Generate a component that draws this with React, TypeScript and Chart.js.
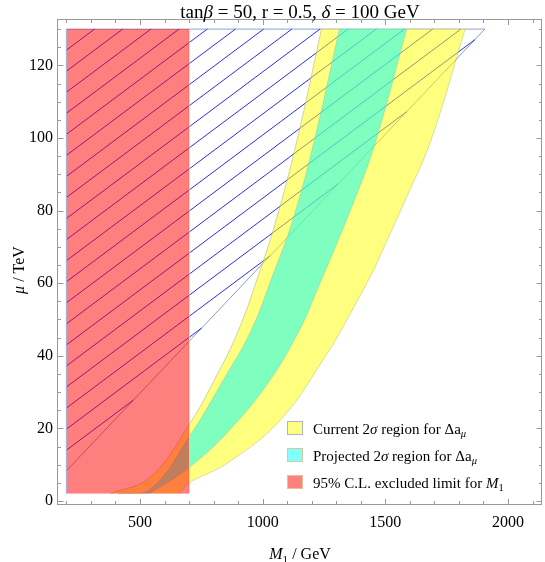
import React, { useEffect, useRef } from "react";
import { Chart, registerables } from "chart.js";

Chart.register(...registerables);

// ---------- axes ----------
const xMin = 165.8;
const xMax = 2138.6;
const yMin = -0.83;
const yMax = 132.5;
const xTicks = [500, 1000, 1500, 2000];
const yTicks = [0, 20, 40, 60, 80, 100, 120];
const xMinorTicks = [200, 300, 400, 500, 600, 700, 800, 900, 1000, 1100, 1200, 1300, 1400, 1500, 1600, 1700, 1800, 1900, 2000, 2100];
const yMinorTicks = [0, 5, 10, 15, 20, 25, 30, 35, 40, 45, 50, 55, 60, 65, 70, 75, 80, 85, 90, 95, 100, 105, 110, 115, 120, 125, 130];

// ---------- current 2σ region (yellow): boundaries, μ [TeV] -> M1 [GeV] ----------
const currentLeftMu = [2, 6.5, 21, 33.3, 47.1, 62.3, 77.4, 99.4, 130];
const currentLeftM1 = [380, 541, 700, 803, 902, 983, 1055, 1140, 1240];
const currentRightMu = [2, 5, 10.4, 22.5, 41.6, 47.1, 62.3, 69.1, 82.9, 99.4, 130];
const currentRightM1 = [660, 700, 855, 1075, 1272, 1320, 1442, 1489, 1581, 1686, 1825];

// ---------- projected 2σ region (cyan) ----------
const projLeftMu = [2, 3.2, 17.6, 33.3, 47.1, 62.3, 77.4, 99.4, 130];
const projLeftM1 = [411, 541, 700, 840, 954, 1042, 1123, 1211, 1313];
const projRightMu = [2, 9.2, 19.6, 33.3, 47.1, 55.4, 82.9, 99.4, 130];
const projRightM1 = [538, 700, 866, 1030, 1150, 1205, 1374, 1462, 1587];

// ---------- 95% C.L. excluded limit for M1 (red) ----------
const exclM1 = [200, 700];
const exclMu = [2, 130];

// ---------- hatched region ----------
const hatchLeftM1 = 200;
const hatchTopMu = 130;
const hatchDiagonalM1 = [200, 1906];
const hatchDiagonalMu = [8.3, 130];
const hatchSlope = 0.0505; // TeV per GeV
const hatchIntercepts = [14.0, 19.8, 25.6, 31.4, 37.2, 43.0, 48.8, 54.6, 60.4, 66.2, 72.0, 77.8, 83.6, 89.4, 95.2, 101.0, 106.8, 112.6, 118.4, 124.2];

const SERIF = '"Liberation Serif", "Times New Roman", serif';

type Part = { t: string; i?: boolean; sub?: boolean };

function richWidth(ctx: CanvasRenderingContext2D, parts: Part[], size: number) {
  let w = 0;
  for (const p of parts) {
    ctx.font = `${p.i ? "italic " : ""}${p.sub ? size * 0.7 : size}px ${SERIF}`;
    w += ctx.measureText(p.t).width;
  }
  return w;
}

function drawRich(ctx: CanvasRenderingContext2D, parts: Part[], x: number, y: number, size: number, align: "left" | "center") {
  const total = richWidth(ctx, parts, size);
  let cx = align === "center" ? x - total / 2 : x;
  ctx.textAlign = "left";
  ctx.textBaseline = "alphabetic";
  for (const p of parts) {
    ctx.font = `${p.i ? "italic " : ""}${p.sub ? size * 0.7 : size}px ${SERIF}`;
    ctx.fillText(p.t, cx, p.sub ? y + size * 0.22 : y);
    cx += ctx.measureText(p.t).width;
  }
}

const pts = (xs: number[], ys: number[]) => xs.map((v, i) => ({ x: v, y: ys[i] }));

function hatchSegments() {
  const d = (hatchDiagonalMu[1] - hatchDiagonalMu[0]) / (hatchDiagonalM1[1] - hatchDiagonalM1[0]);
  return hatchIntercepts.map((b) => {
    const toTop = (hatchTopMu - b) / hatchSlope;
    const toDiag = b > hatchDiagonalMu[0] ? (b - hatchDiagonalMu[0]) / (d - hatchSlope) : 0;
    const len = d > hatchSlope ? Math.min(toTop, toDiag) : toTop;
    return [
      { x: hatchLeftM1, y: b },
      { x: hatchLeftM1 + len, y: b + hatchSlope * len },
    ];
  });
}

const framePlugin = {
  id: "framePlugin",
  afterDatasetsDraw(chart: any) {
    const { ctx, chartArea } = chart;
    const { left, right, top, bottom } = chartArea;
    const xs = chart.scales.x;
    const ys = chart.scales.y;
    ctx.save();
    ctx.strokeStyle = "#999999";
    ctx.lineWidth = 1;
    ctx.strokeRect(Math.round(left) - 0.5, Math.round(top) - 0.5, Math.round(right - left), Math.round(bottom - top) + 1);
    ctx.beginPath();
    for (const v of xMinorTicks) {
      const px = Math.round(xs.getPixelForValue(v)) + 0.5;
      const len = xTicks.includes(v) ? 5 : 3;
      ctx.moveTo(px, bottom);
      ctx.lineTo(px, bottom - len);
      ctx.moveTo(px, top);
      ctx.lineTo(px, top + len);
    }
    for (const v of yMinorTicks) {
      const py = Math.round(ys.getPixelForValue(v)) + 0.5;
      const len = yTicks.includes(v) ? 5.5 : 3;
      ctx.moveTo(left, py);
      ctx.lineTo(left + len, py);
      ctx.moveTo(right, py);
      ctx.lineTo(right - len, py);
    }
    ctx.stroke();
    ctx.restore();
  },
  afterDraw(chart: any) {
    const { ctx } = chart;
    ctx.save();
    ctx.fillStyle = "#000";
    // title
    drawRich(ctx, [{ t: "tan" }, { t: "β", i: true }, { t: " = 50, r = 0.5, " }, { t: "δ", i: true }, { t: " = 100 GeV" }], 300, 17.5, 19, "center");
    // x axis title
    drawRich(ctx, [{ t: "M", i: true }, { t: "1", sub: true }, { t: " / GeV" }], 300, 559, 16, "center");
    // y axis title
    ctx.save();
    ctx.translate(24, 270);
    ctx.rotate(-Math.PI / 2);
    drawRich(ctx, [{ t: "μ", i: true }, { t: " / TeV" }], 0, 0, 16, "center");
    ctx.restore();
    // legend
    const rows: { fill: string; stroke: string; parts: Part[] }[] = [
      { fill: "rgb(255,255,128)", stroke: "rgb(170,180,205)", parts: [{ t: "Current 2" }, { t: "σ", i: true }, { t: " region for Δa" }, { t: "μ", i: true, sub: true }] },
      { fill: "rgb(128,255,255)", stroke: "rgb(215,200,150)", parts: [{ t: "Projected 2" }, { t: "σ", i: true }, { t: " region for Δa" }, { t: "μ", i: true, sub: true }] },
      { fill: "rgb(255,128,128)", stroke: "rgb(225,195,150)", parts: [{ t: "95% C.L. excluded limit for " }, { t: "M", i: true }, { t: "1", sub: true }] },
    ];
    rows.forEach((r, k) => {
      const yTop = 421 + k * 27;
      ctx.fillStyle = r.fill;
      ctx.fillRect(287, yTop, 16, 14);
      ctx.strokeStyle = r.stroke;
      ctx.lineWidth = 1;
      ctx.strokeRect(287.5, yTop + 0.5, 15, 13);
      ctx.fillStyle = "#000";
      drawRich(ctx, r.parts, 313, yTop + 12.5, 15, "left");
    });
    ctx.restore();
  },
};

export default function App() {
  const ref = useRef<HTMLCanvasElement | null>(null);
  useEffect(() => {
    if (!ref.current) return;
    const yellow = "rgba(255,255,0,0.5)";
    const cyan = "rgba(0,255,255,0.5)";
    const red = "rgba(255,0,0,0.5)";
    const band = {
      pointRadius: 0,
      tension: 0.4,
      borderWidth: 0.8,
    };
    const hatch = hatchSegments().map((seg) => ({
      data: seg,
      borderColor: "rgb(45,45,235)",
      borderWidth: 1,
      pointRadius: 0,
      fill: false,
    }));
    const chart = new Chart(ref.current, {
      type: "line",
      data: {
        datasets: [
          { data: pts([exclM1[0], exclM1[0]], exclMu), fill: "+1", backgroundColor: red, borderColor: "rgba(160,175,215,1)", borderWidth: 1, pointRadius: 0 },
          { data: pts([exclM1[1], exclM1[1]], exclMu), fill: false, borderColor: "rgba(250,200,160,1)", borderWidth: 1, pointRadius: 0 },
          { ...band, data: pts(projLeftM1, projLeftMu), fill: "+1", backgroundColor: cyan, borderColor: "rgba(150,190,160,0.6)" },
          { ...band, data: pts(projRightM1, projRightMu), fill: false, borderColor: "rgba(150,190,160,0.6)" },
          { ...band, data: pts(currentLeftM1, currentLeftMu), fill: "+1", backgroundColor: yellow, borderColor: "rgba(175,175,140,0.7)" },
          { ...band, data: pts(currentRightM1, currentRightMu), fill: false, borderColor: "rgba(175,175,140,0.7)" },
          ...hatch,
          { data: pts(hatchDiagonalM1, hatchDiagonalMu), fill: false, borderColor: "rgb(140,155,195)", borderWidth: 1, pointRadius: 0 },
          { data: pts([hatchLeftM1, hatchDiagonalM1[1]], [hatchTopMu, hatchTopMu]), fill: false, borderColor: "rgb(165,180,220)", borderWidth: 1.2, pointRadius: 0 },
        ] as any,
      },
      options: {
        animation: false,
        responsive: false,
        indexAxis: "y",
        layout: { padding: { left: 0, top: 20, right: 3, bottom: 0 } },
        plugins: { legend: { display: false }, tooltip: { enabled: false }, title: { display: false } },
        elements: { point: { radius: 0 } },
        scales: {
          x: {
            type: "linear",
            position: "bottom",
            min: xMin,
            max: xMax,
            grid: { display: false, drawTicks: false },
            border: { display: false },
            ticks: { color: "#000", font: { family: SERIF, size: 16 }, padding: 9, maxRotation: 0, callback: (v: any) => String(v) },
            afterBuildTicks: (s: any) => {
              s.ticks = xTicks.map((v) => ({ value: v }));
            },
            afterFit: (s: any) => {
              s.height = 58;
            },
          },
          y: {
            type: "linear",
            position: "left",
            min: yMin,
            max: yMax,
            grid: { display: false, drawTicks: false },
            border: { display: false },
            ticks: { color: "#000", font: { family: SERIF, size: 16 }, padding: 5, callback: (v: any) => String(v) },
            afterBuildTicks: (s: any) => {
              s.ticks = yTicks.map((v) => ({ value: v }));
            },
            afterFit: (s: any) => {
              s.width = 58;
            },
          },
        },
      } as any,
      plugins: [framePlugin],
    });
    return () => chart.destroy();
  }, []);
  return (
    <div style={{ position: "fixed", left: 0, top: 0, width: 545, height: 562, background: "#fff" }}>
      <canvas ref={ref} width={545} height={562} style={{ display: "block", width: 545, height: 562 }} />
    </div>
  );
}
